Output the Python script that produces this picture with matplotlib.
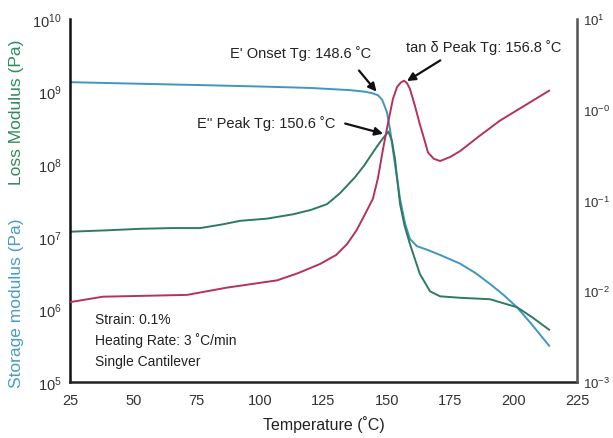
import matplotlib
matplotlib.use("Agg")
import matplotlib.pyplot as plt
import numpy as np

plt.rcParams['font.family'] = ['Liberation Sans', 'DejaVu Sans']
plt.rcParams['mathtext.fontset'] = 'custom'
plt.rcParams['mathtext.rm'] = 'Liberation Sans'
plt.rcParams['mathtext.it'] = 'Liberation Sans'

# storage modulus E' (Pa)
temp_storage = [25, 50, 76, 100, 120, 135.5, 141, 144.1, 146.5, 148.1, 150, 151.2, 153.2,
                155.2, 157.2, 159.1, 161.9, 166, 171, 178.9, 185, 190.7, 196, 201.3, 207, 214]
log_storage = [9.13, 9.11, 9.09, 9.07, 9.05, 9.02, 9.0, 8.98, 8.95, 8.89, 8.72, 8.49, 8.0,
               7.52, 7.18, 6.97, 6.87, 6.82, 6.75, 6.63, 6.5, 6.35, 6.2, 6.03, 5.8, 5.5]

# loss modulus E'' (Pa)
temp_loss = [25, 40, 52.6, 65, 76.3, 85, 92.1, 102.7, 113, 120, 126.4, 131.5, 137.4, 141, 143.3,
             146, 148.1, 150.6, 152, 153.2, 155.2, 157, 159.1, 161, 163, 167, 171, 178.9, 190.7,
             201.3, 207, 214]
log_loss = [7.07, 7.09, 7.11, 7.12, 7.12, 7.17, 7.22, 7.25, 7.31, 7.37, 7.45, 7.6, 7.82, 7.98, 8.1,
            8.24, 8.34, 8.45, 8.32, 8.07, 7.45, 7.15, 6.9, 6.7, 6.49, 6.25, 6.18, 6.16, 6.14,
            6.03, 5.9, 5.72]

# tan delta
temp_tan = [25, 38, 55, 71.2, 86.9, 106.7, 115, 123.6, 130, 134.3, 138, 141.4, 144.5, 146.5,
            148.5, 150.5, 152.4, 154, 155.5, 156.8, 158, 159.1, 161, 163, 164.8, 166.2, 168.5,
            171, 175, 178.9, 186, 194.6, 204, 214]
log_tan = [-2.12, -2.06, -2.05, -2.04, -1.96, -1.88, -1.80, -1.70, -1.60, -1.48, -1.33, -1.15,
           -0.98, -0.75, -0.43, -0.14, 0.12, 0.25, 0.30, 0.32, 0.29, 0.23, 0.05, -0.16, -0.33,
           -0.47, -0.54, -0.565, -0.52, -0.455, -0.30, -0.12, 0.04, 0.21]

x_ticks = [25, 50, 75, 100, 125, 150, 175, 200, 225]
left_ticks = [1e5, 1e6, 1e7, 1e8, 1e9, 1e10]
left_labels = [r'$10^{5}$', r'$10^{6}$', r'$10^{7}$', r'$10^{8}$', r'$10^{9}$', r'$10^{10}$']
right_ticks = [1e-3, 1e-2, 1e-1, 1e0, 1e1]
right_labels = [r'$10^{-3}$', r'$10^{-2}$', r'$10^{-1}$', r'$10^{-0}$', r'$10^{1}$']

c_storage = '#3f96c0'
c_loss = '#2d7b60'
c_tan = '#b3325e'

fig = plt.figure(figsize=(6.13, 4.39), dpi=100)
ax = fig.add_axes([70 / 613, 1 - 383 / 439, 507 / 613, 363 / 439])
ax2 = ax.twinx()

ax.plot(temp_storage, 10 ** np.array(log_storage), color=c_storage, lw=1.4)
ax.plot(temp_loss, 10 ** np.array(log_loss), color=c_loss, lw=1.4)
ax2.plot(temp_tan, 10 ** np.array(log_tan), color=c_tan, lw=1.4)

ax.set_xlim(25, 225)
ax.set_yscale('log')
ax.set_ylim(1e5, 1e10)
ax2.set_yscale('log')
ax2.set_ylim(1e-3, 1e1)

ax.set_xticks(x_ticks)
ax.set_yticks(left_ticks)
ax.set_yticklabels(left_labels)
ax.minorticks_off()
ax2.set_yticks(right_ticks)
ax2.set_yticklabels(right_labels)
ax2.minorticks_off()

ax.tick_params(axis='both', length=0, labelsize=10.5, colors='#333333')
ax.tick_params(axis='x', pad=8)
ax.tick_params(axis='y', pad=6)
ax2.tick_params(axis='y', length=0, labelsize=9.5, colors='#333333', pad=4)

for a in (ax, ax2):
    a.spines['top'].set_visible(False)
ax.spines['left'].set_linewidth(1.8)
ax.spines['bottom'].set_linewidth(1.8)
ax.spines['left'].set_color('#111111')
ax.spines['bottom'].set_color('#222222')
ax2.spines['right'].set_linewidth(1.8)
ax2.spines['right'].set_color('#555555')
ax2.spines['left'].set_visible(False)
ax2.spines['bottom'].set_visible(False)

ax.set_xlabel('Temperature (˚C)', fontsize=11.5, color='#222222', labelpad=6)

# two-coloured y label
fig.text(17 / 613, 1 - 303 / 439, 'Storage modulus (Pa)', rotation=90, color='#4a9cc6',
         fontsize=12.5, ha='center', va='center')
fig.text(17 / 613, 1 - 112 / 439, 'Loss Modulus (Pa)', rotation=90, color='#2f8c5c',
         fontsize=12.5, ha='center', va='center')

arrow = dict(arrowstyle='-|>', color='#111111', lw=1.6, mutation_scale=12)

ax.text(116, 10 ** 9.54, "E' Onset Tg: 148.6 ˚C", fontsize=10.5, color='#222222',
        ha='center', va='center')
ax.annotate('', xy=(146.6, 10 ** 8.97), xytext=(138.3, 10 ** 9.32), arrowprops=arrow)

ax2.text(188, 10 ** 0.7, "tan δ Peak Tg: 156.8 ˚C", fontsize=10.5, color='#222222',
         ha='center', va='center')
ax2.annotate('', xy=(157.0, 10 ** 0.30), xytext=(172, 10 ** 0.56), arrowprops=arrow)

ax.text(102.3, 10 ** 8.58, "E'' Peak Tg: 150.6 ˚C", fontsize=10.5, color='#222222',
        ha='center', va='center')
ax.annotate('', xy=(149.6, 10 ** 8.41), xytext=(132.5, 10 ** 8.57), arrowprops=arrow)

ax.text(35, 10 ** 5.87, 'Strain: 0.1%', fontsize=10, color='#222222', va='center')
ax.text(35, 10 ** 5.58, 'Heating Rate: 3 ˚C/min', fontsize=10, color='#222222', va='center')
ax.text(35, 10 ** 5.29, 'Single Cantilever', fontsize=10, color='#222222', va='center')

fig.savefig('out.png', dpi=100)
